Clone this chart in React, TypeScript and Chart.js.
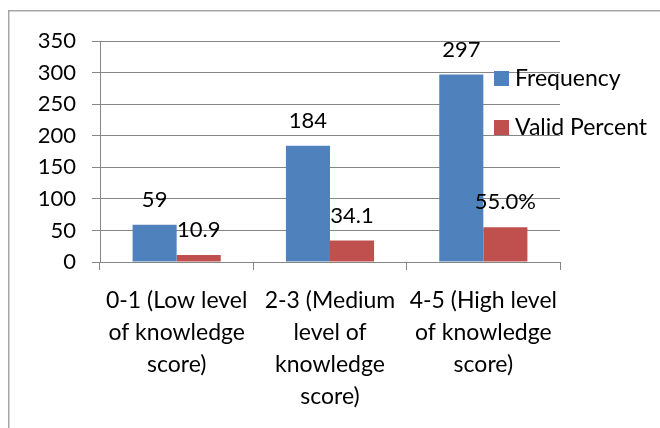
import React, { useEffect, useRef } from "react";
import { Chart, registerables } from "chart.js";

Chart.register(...registerables);

const categories: string[][] = [
  ["0-1 (Low level", "of knowledge", "score)"],
  ["2-3 (Medium", "level of", "knowledge", "score)"],
  ["4-5 (High level", "of knowledge", "score)"],
];
const seriesNames = ["Frequency", "Valid Percent"];
const frequency = [59, 184, 297];
const validPercent = [10.9, 34.1, 55.0];
const frequencyLabels = ["59", "184", "297"];
const percentLabels = ["10.9", "34.1", "55.0%"];
const yMax = 350;
const yStep = 50;

const BLUE = "#4F81BD";
const RED = "#C0504D";
const GRID = "#868686";
const FONT = "Lato, 'Open Sans', sans-serif";

const framePlugin = {
  id: "frame",
  beforeDraw(chart: any) {
    const ctx = chart.ctx;
    ctx.save();
    ctx.fillStyle = "#ffffff";
    ctx.fillRect(0, 0, chart.width, chart.height);
    ctx.strokeStyle = "#a6a6a6";
    ctx.lineWidth = 1.5;
    ctx.strokeRect(8.75, 10.75, chart.width + 20, chart.height + 20);
    ctx.restore();
  },
};

const valueLabelPlugin = {
  id: "valueLabels",
  afterDatasetsDraw(chart: any) {
    const ctx = chart.ctx;
    const all = [frequencyLabels, percentLabels];
    ctx.save();
    ctx.font = `22px ${FONT}`;
    ctx.fillStyle = "#000000";
    ctx.textAlign = "center";
    ctx.textBaseline = "middle";
    chart.data.datasets.forEach((_ds: any, di: number) => {
      const meta = chart.getDatasetMeta(di);
      meta.data.forEach((el: any, i: number) => {
        ctx.fillText(all[di][i], el.x, el.y - 25);
      });
    });
    ctx.restore();
  },
};

const legendPlugin = {
  id: "sideLegend",
  afterDraw(chart: any) {
    const ctx = chart.ctx;
    const ca = chart.chartArea;
    const colors = [BLUE, RED];
    ctx.save();
    ctx.font = `23px ${FONT}`;
    ctx.fillStyle = "#000000";
    ctx.textBaseline = "middle";
    ctx.textAlign = "left";
    seriesNames.forEach((name, i) => {
      const x = ca.right - 66;
      const y = ca.top + 30 + i * 49;
      ctx.fillStyle = colors[i];
      ctx.fillRect(x, y, 15, 15);
      ctx.fillStyle = "#000000";
      ctx.fillText(name, x + 21, y + 8);
    });
    ctx.restore();
  },
};

export default function App() {
  const ref = useRef<HTMLCanvasElement | null>(null);
  useEffect(() => {
    if (!ref.current) return;
    const chart = new Chart(ref.current, {
      type: "bar",
      data: {
        labels: categories,
        datasets: [
          {
            label: seriesNames[0],
            data: frequency,
            backgroundColor: BLUE,
            categoryPercentage: 0.575,
            barPercentage: 1,
          },
          {
            label: seriesNames[1],
            data: validPercent,
            backgroundColor: RED,
            categoryPercentage: 0.575,
            barPercentage: 1,
          },
        ],
      },
      options: {
        animation: false,
        responsive: false,
        maintainAspectRatio: false,
        layout: { padding: { top: 41, right: 100, left: 0, bottom: 0 } },
        plugins: {
          legend: { display: false },
          tooltip: { enabled: false },
        },
        scales: {
          x: {
            grid: {
              display: true,
              drawOnChartArea: false,
              drawTicks: true,
              tickLength: 8,
              color: GRID,
              offset: true,
            },
            border: { display: true, color: GRID },
            ticks: {
              color: "#000000",
              font: { family: FONT, size: 23, lineHeight: 1.4 },
              padding: 14,
              maxRotation: 0,
              minRotation: 0,
              autoSkip: false,
            },
            afterFit(scale: any) {
              scale.height = 166;
            },
          },
          y: {
            min: 0,
            max: yMax,
            grid: { color: GRID, tickLength: 8, drawTicks: true },
            border: { display: true, color: GRID },
            ticks: {
              stepSize: yStep,
              color: "#000000",
              font: { family: FONT, size: 22 },
              padding: 16,
            },
            afterFit(scale: any) {
              scale.width = 100;
            },
          },
        },
      },
      plugins: [framePlugin, valueLabelPlugin, legendPlugin],
    });
    return () => chart.destroy();
  }, []);
  return (
    <div style={{ position: "fixed", left: 0, top: 0, width: 660, height: 428 }}>
      <canvas ref={ref} width={660} height={428} style={{ display: "block" }} />
    </div>
  );
}
